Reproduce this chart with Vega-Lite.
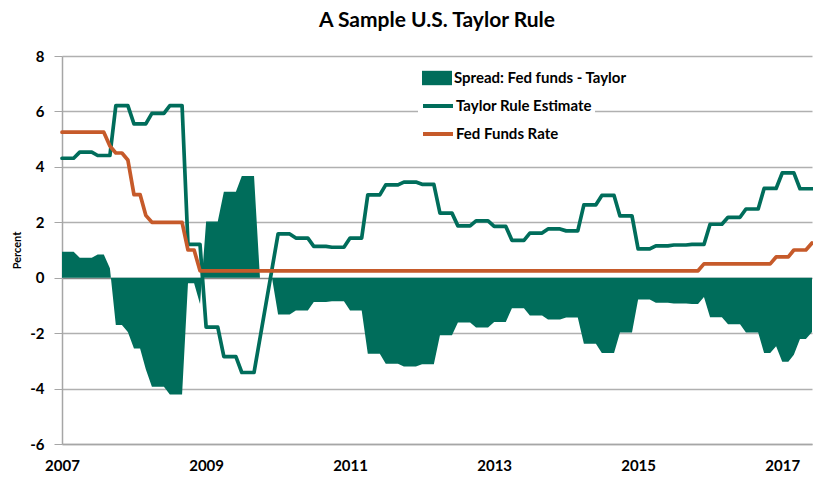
{
  "$schema": "https://vega.github.io/schema/vega-lite/v6.json",
  "width": 750,
  "height": 388,
  "autosize": {"type": "none"},
  "padding": {"left": 62, "top": 56, "right": 1, "bottom": 34},
  "background": "white",
  "config": {"font": "Lato", "view": {"stroke": null}},
  "title": {"text": "A Sample U.S. Taylor Rule", "fontSize": 21, "fontWeight": "bold", "font": "Lato", "color": "#000000", "anchor": "middle", "offset": 18},
  "data": {"values": [
    {"d": "2007/01/01", "t": 4.31, "f": 5.25, "s": 0.94},
    {"d": "2007/02/01", "t": 4.31, "f": 5.25, "s": 0.94},
    {"d": "2007/03/01", "t": 4.31, "f": 5.25, "s": 0.94},
    {"d": "2007/04/01", "t": 4.53, "f": 5.25, "s": 0.72},
    {"d": "2007/05/01", "t": 4.53, "f": 5.25, "s": 0.72},
    {"d": "2007/06/01", "t": 4.53, "f": 5.25, "s": 0.72},
    {"d": "2007/07/01", "t": 4.41, "f": 5.25, "s": 0.84},
    {"d": "2007/08/01", "t": 4.41, "f": 5.25, "s": 0.84},
    {"d": "2007/09/01", "t": 4.41, "f": 4.75, "s": 0.34},
    {"d": "2007/10/01", "t": 6.21, "f": 4.5, "s": -1.71},
    {"d": "2007/11/01", "t": 6.21, "f": 4.5, "s": -1.71},
    {"d": "2007/12/01", "t": 6.21, "f": 4.25, "s": -1.96},
    {"d": "2008/01/01", "t": 5.55, "f": 3.0, "s": -2.55},
    {"d": "2008/02/01", "t": 5.55, "f": 3.0, "s": -2.55},
    {"d": "2008/03/01", "t": 5.55, "f": 2.25, "s": -3.3},
    {"d": "2008/04/01", "t": 5.93, "f": 2.0, "s": -3.93},
    {"d": "2008/05/01", "t": 5.93, "f": 2.0, "s": -3.93},
    {"d": "2008/06/01", "t": 5.93, "f": 2.0, "s": -3.93},
    {"d": "2008/07/01", "t": 6.21, "f": 2.0, "s": -4.21},
    {"d": "2008/08/01", "t": 6.21, "f": 2.0, "s": -4.21},
    {"d": "2008/09/01", "t": 6.21, "f": 2.0, "s": -4.21},
    {"d": "2008/10/01", "t": 1.2, "f": 1.0, "s": -0.2},
    {"d": "2008/11/01", "t": 1.2, "f": 1.0, "s": -0.2},
    {"d": "2008/12/01", "t": 1.2, "f": 0.25, "s": -0.95},
    {"d": "2009/01/01", "t": -1.78, "f": 0.25, "s": 2.03},
    {"d": "2009/02/01", "t": -1.78, "f": 0.25, "s": 2.03},
    {"d": "2009/03/01", "t": -1.78, "f": 0.25, "s": 2.03},
    {"d": "2009/04/01", "t": -2.85, "f": 0.25, "s": 3.1},
    {"d": "2009/05/01", "t": -2.85, "f": 0.25, "s": 3.1},
    {"d": "2009/06/01", "t": -2.85, "f": 0.25, "s": 3.1},
    {"d": "2009/07/01", "t": -3.42, "f": 0.25, "s": 3.67},
    {"d": "2009/08/01", "t": -3.42, "f": 0.25, "s": 3.67},
    {"d": "2009/09/01", "t": -3.42, "f": 0.25, "s": 3.67},
    {"d": "2009/10/01", "t": null, "f": 0.25, "s": 0},
    {"d": "2009/11/01", "t": null, "f": 0.25, "s": 0},
    {"d": "2009/12/01", "t": null, "f": 0.25, "s": 0},
    {"d": "2010/01/01", "t": 1.58, "f": 0.25, "s": -1.33},
    {"d": "2010/02/01", "t": 1.58, "f": 0.25, "s": -1.33},
    {"d": "2010/03/01", "t": 1.58, "f": 0.25, "s": -1.33},
    {"d": "2010/04/01", "t": 1.43, "f": 0.25, "s": -1.18},
    {"d": "2010/05/01", "t": 1.43, "f": 0.25, "s": -1.18},
    {"d": "2010/06/01", "t": 1.43, "f": 0.25, "s": -1.18},
    {"d": "2010/07/01", "t": 1.13, "f": 0.25, "s": -0.88},
    {"d": "2010/08/01", "t": 1.13, "f": 0.25, "s": -0.88},
    {"d": "2010/09/01", "t": 1.13, "f": 0.25, "s": -0.88},
    {"d": "2010/10/01", "t": 1.1, "f": 0.25, "s": -0.85},
    {"d": "2010/11/01", "t": 1.1, "f": 0.25, "s": -0.85},
    {"d": "2010/12/01", "t": 1.1, "f": 0.25, "s": -0.85},
    {"d": "2011/01/01", "t": 1.43, "f": 0.25, "s": -1.18},
    {"d": "2011/02/01", "t": 1.43, "f": 0.25, "s": -1.18},
    {"d": "2011/03/01", "t": 1.43, "f": 0.25, "s": -1.18},
    {"d": "2011/04/01", "t": 2.99, "f": 0.25, "s": -2.74},
    {"d": "2011/05/01", "t": 2.99, "f": 0.25, "s": -2.74},
    {"d": "2011/06/01", "t": 2.99, "f": 0.25, "s": -2.74},
    {"d": "2011/07/01", "t": 3.35, "f": 0.25, "s": -3.1},
    {"d": "2011/08/01", "t": 3.35, "f": 0.25, "s": -3.1},
    {"d": "2011/09/01", "t": 3.35, "f": 0.25, "s": -3.1},
    {"d": "2011/10/01", "t": 3.45, "f": 0.25, "s": -3.2},
    {"d": "2011/11/01", "t": 3.45, "f": 0.25, "s": -3.2},
    {"d": "2011/12/01", "t": 3.45, "f": 0.25, "s": -3.2},
    {"d": "2012/01/01", "t": 3.37, "f": 0.25, "s": -3.12},
    {"d": "2012/02/01", "t": 3.37, "f": 0.25, "s": -3.12},
    {"d": "2012/03/01", "t": 3.37, "f": 0.25, "s": -3.12},
    {"d": "2012/04/01", "t": 2.33, "f": 0.25, "s": -2.08},
    {"d": "2012/05/01", "t": 2.33, "f": 0.25, "s": -2.08},
    {"d": "2012/06/01", "t": 2.33, "f": 0.25, "s": -2.08},
    {"d": "2012/07/01", "t": 1.87, "f": 0.25, "s": -1.62},
    {"d": "2012/08/01", "t": 1.87, "f": 0.25, "s": -1.62},
    {"d": "2012/09/01", "t": 1.87, "f": 0.25, "s": -1.62},
    {"d": "2012/10/01", "t": 2.05, "f": 0.25, "s": -1.8},
    {"d": "2012/11/01", "t": 2.05, "f": 0.25, "s": -1.8},
    {"d": "2012/12/01", "t": 2.05, "f": 0.25, "s": -1.8},
    {"d": "2013/01/01", "t": 1.85, "f": 0.25, "s": -1.6},
    {"d": "2013/02/01", "t": 1.85, "f": 0.25, "s": -1.6},
    {"d": "2013/03/01", "t": 1.85, "f": 0.25, "s": -1.6},
    {"d": "2013/04/01", "t": 1.35, "f": 0.25, "s": -1.1},
    {"d": "2013/05/01", "t": 1.35, "f": 0.25, "s": -1.1},
    {"d": "2013/06/01", "t": 1.35, "f": 0.25, "s": -1.1},
    {"d": "2013/07/01", "t": 1.61, "f": 0.25, "s": -1.36},
    {"d": "2013/08/01", "t": 1.61, "f": 0.25, "s": -1.36},
    {"d": "2013/09/01", "t": 1.61, "f": 0.25, "s": -1.36},
    {"d": "2013/10/01", "t": 1.76, "f": 0.25, "s": -1.51},
    {"d": "2013/11/01", "t": 1.76, "f": 0.25, "s": -1.51},
    {"d": "2013/12/01", "t": 1.76, "f": 0.25, "s": -1.51},
    {"d": "2014/01/01", "t": 1.69, "f": 0.25, "s": -1.44},
    {"d": "2014/02/01", "t": 1.69, "f": 0.25, "s": -1.44},
    {"d": "2014/03/01", "t": 1.69, "f": 0.25, "s": -1.44},
    {"d": "2014/04/01", "t": 2.63, "f": 0.25, "s": -2.38},
    {"d": "2014/05/01", "t": 2.63, "f": 0.25, "s": -2.38},
    {"d": "2014/06/01", "t": 2.63, "f": 0.25, "s": -2.38},
    {"d": "2014/07/01", "t": 2.97, "f": 0.25, "s": -2.72},
    {"d": "2014/08/01", "t": 2.97, "f": 0.25, "s": -2.72},
    {"d": "2014/09/01", "t": 2.97, "f": 0.25, "s": -2.72},
    {"d": "2014/10/01", "t": 2.23, "f": 0.25, "s": -1.98},
    {"d": "2014/11/01", "t": 2.23, "f": 0.25, "s": -1.98},
    {"d": "2014/12/01", "t": 2.23, "f": 0.25, "s": -1.98},
    {"d": "2015/01/01", "t": 1.04, "f": 0.25, "s": -0.79},
    {"d": "2015/02/01", "t": 1.04, "f": 0.25, "s": -0.79},
    {"d": "2015/03/01", "t": 1.04, "f": 0.25, "s": -0.79},
    {"d": "2015/04/01", "t": 1.15, "f": 0.25, "s": -0.9},
    {"d": "2015/05/01", "t": 1.15, "f": 0.25, "s": -0.9},
    {"d": "2015/06/01", "t": 1.15, "f": 0.25, "s": -0.9},
    {"d": "2015/07/01", "t": 1.18, "f": 0.25, "s": -0.93},
    {"d": "2015/08/01", "t": 1.18, "f": 0.25, "s": -0.93},
    {"d": "2015/09/01", "t": 1.18, "f": 0.25, "s": -0.93},
    {"d": "2015/10/01", "t": 1.2, "f": 0.25, "s": -0.95},
    {"d": "2015/11/01", "t": 1.2, "f": 0.25, "s": -0.95},
    {"d": "2015/12/01", "t": 1.2, "f": 0.5, "s": -0.7},
    {"d": "2016/01/01", "t": 1.93, "f": 0.5, "s": -1.43},
    {"d": "2016/02/01", "t": 1.93, "f": 0.5, "s": -1.43},
    {"d": "2016/03/01", "t": 1.93, "f": 0.5, "s": -1.43},
    {"d": "2016/04/01", "t": 2.18, "f": 0.5, "s": -1.68},
    {"d": "2016/05/01", "t": 2.18, "f": 0.5, "s": -1.68},
    {"d": "2016/06/01", "t": 2.18, "f": 0.5, "s": -1.68},
    {"d": "2016/07/01", "t": 2.48, "f": 0.5, "s": -1.98},
    {"d": "2016/08/01", "t": 2.48, "f": 0.5, "s": -1.98},
    {"d": "2016/09/01", "t": 2.48, "f": 0.5, "s": -1.98},
    {"d": "2016/10/01", "t": 3.22, "f": 0.5, "s": -2.72},
    {"d": "2016/11/01", "t": 3.22, "f": 0.5, "s": -2.72},
    {"d": "2016/12/01", "t": 3.22, "f": 0.75, "s": -2.47},
    {"d": "2017/01/01", "t": 3.78, "f": 0.75, "s": -3.03},
    {"d": "2017/02/01", "t": 3.78, "f": 0.75, "s": -3.03},
    {"d": "2017/03/01", "t": 3.78, "f": 1.0, "s": -2.78},
    {"d": "2017/04/01", "t": 3.21, "f": 1.0, "s": -2.21},
    {"d": "2017/05/01", "t": 3.21, "f": 1.0, "s": -2.21},
    {"d": "2017/06/01", "t": 3.21, "f": 1.25, "s": -1.96}
  ]},
  "encoding": {
    "x": {
      "field": "d", "type": "temporal",
      "scale": {"domain": [{"year": 2007, "month": 1, "date": 1}, {"year": 2017, "month": 6, "date": 1}]},
      "axis": {"title": null, "format": "%Y",
        "values": [{"year": 2007, "month": 1, "date": 1}, {"year": 2009, "month": 1, "date": 1}, {"year": 2011, "month": 1, "date": 1}, {"year": 2013, "month": 1, "date": 1}, {"year": 2015, "month": 1, "date": 1}, {"year": 2017, "month": 1, "date": 1}],
        "grid": false, "ticks": false, "labelFlush": false, "labelFontSize": 15, "labelFontWeight": "bold", "labelColor": "#000000", "labelPadding": 14, "domainColor": "#a6a6a6", "domainWidth": 1.5}
    }
  },
  "layer": [
    {
      "mark": {"type": "area", "opacity": 1, "interpolate": "linear"},
      "encoding": {
        "y": {"field": "s", "type": "quantitative", "scale": {"domain": [-6, 8], "nice": false},
          "axis": {"title": "Percent", "values": [-6, -4, -2, 0, 2, 4, 6, 8], "labelExpr": "'' + datum.value", "labelFontSize": 15, "labelFontWeight": "bold", "labelColor": "#000000", "tickSize": 8, "tickColor": "#a6a6a6", "labelPadding": 10, "titleFontSize": 11, "titleFontWeight": "bold", "titleColor": "#000000", "titlePadding": 7, "domainColor": "#a6a6a6", "domainWidth": 1.5, "gridColor": {"condition": {"test": "datum.value === 0", "value": "#868686"}, "value": "#b0b0b0"}, "gridWidth": 1.5}},
        "fill": {"datum": "Spread: Fed funds - Taylor", "type": "nominal", "scale": {"range": ["#006D5B"]},
          "legend": {"title": null, "orient": "none", "legendX": 356, "legendY": 3, "symbolType": "M-1,-0.48H1V0.48H-1Z", "symbolSize": 900, "symbolOpacity": 1, "labelFontSize": 15, "labelFontWeight": "bold", "labelColor": "#000000", "labelOffset": 1, "labelLimit": 400, "padding": 3, "fillColor": "white"}}
      }
    },
    {
      "transform": [{"filter": {"field": "t", "valid": true}}],
      "mark": {"type": "line", "strokeWidth": 3.7, "strokeJoin": "round", "strokeCap": "round"},
      "encoding": {
        "y": {"field": "t", "type": "quantitative", "title": "Percent"},
        "stroke": {"datum": "Taylor Rule Estimate", "type": "nominal",
          "scale": {"domain": ["Taylor Rule Estimate", "Fed Funds Rate"], "range": ["#006D5B", "#C65A2A"]},
          "legend": {"title": null, "orient": "none", "legendX": 356, "legendY": 30, "symbolType": "stroke", "symbolSize": 900, "symbolStrokeWidth": 4, "labelFontSize": 15, "labelFontWeight": "bold", "labelColor": "#000000", "labelOffset": 1, "labelLimit": 400, "rowPadding": 3, "padding": 3, "fillColor": "white"}}
      }
    },
    {
      "mark": {"type": "line", "strokeWidth": 3.7, "strokeJoin": "round", "strokeCap": "round"},
      "encoding": {
        "y": {"field": "f", "type": "quantitative", "title": "Percent"},
        "stroke": {"datum": "Fed Funds Rate", "type": "nominal"}
      }
    }
  ]
}
